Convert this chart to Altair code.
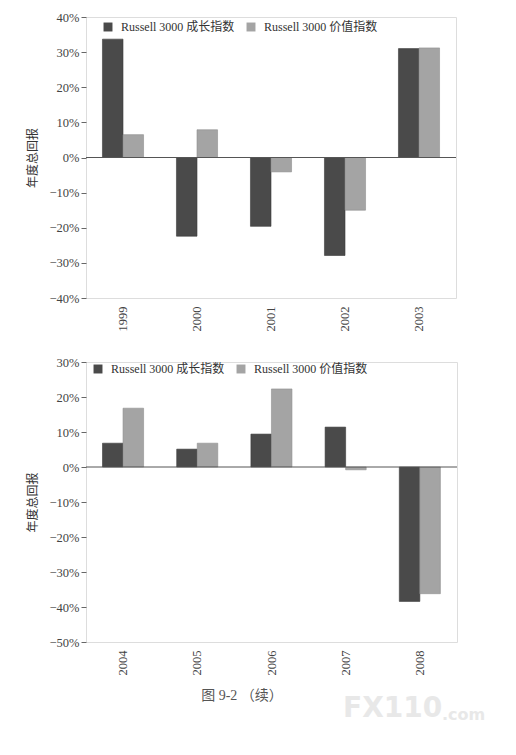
import altair as alt
import pandas as pd

series = ["Russell 3000 成长指数", "Russell 3000 价值指数"]

years_top = ["1999", "2000", "2001", "2002", "2003"]
growth_top = [33.7, -22.4, -19.6, -27.9, 31.0]
value_top = [6.5, 7.9, -4.1, -15.0, 31.2]

years_bot = ["2004", "2005", "2006", "2007", "2008"]
growth_bot = [6.8, 5.1, 9.4, 11.4, -38.4]
value_bot = [16.8, 6.8, 22.3, -0.8, -36.2]

ticks_top = [-40, -30, -20, -10, 0, 10, 20, 30, 40]
ticks_bot = [-50, -40, -30, -20, -10, 0, 10, 20, 30]

y_title = "年度总回报"
caption = "图 9-2 （续）"
watermark = "FX110"
watermark2 = ".com"

SERIF = "Liberation Serif, Noto Sans CJK SC"
DARK = "#4a4a4a"
LIGHT = "#a4a4a4"


def table(years, g, v):
    rows = []
    for y, a, b in zip(years, g, v):
        rows.append({"year": y, "series": series[0], "value": a})
        rows.append({"year": y, "series": series[1], "value": b})
    return pd.DataFrame(rows)


def y_axis(ticks):
    return alt.Axis(
        values=ticks,
        labelExpr="format(datum.value, 'd') + '%'",
        labelOverlap=False,
        grid=False,
        domain=False,
        tickSize=5,
        tickColor="#666",
        labelPadding=2,
        labelFont=SERIF,
        labelFontSize=12.5,
        labelColor="#444",
        titleFont="Noto Sans CJK SC",
        titleFontSize=12,
        titleFontWeight="normal",
        titleColor="#333",
        titlePadding=10,
    )


def panel(years, g, v, ticks, lx, ly, w, h, extra=None):
    df = table(years, g, v)
    yscale = alt.Scale(domain=[ticks[0], ticks[-1]], nice=False)
    bars = alt.Chart(df).mark_bar(strokeWidth=0.6).encode(
        x=alt.X(
            "year:N",
            sort=years,
            title=None,
            scale=alt.Scale(paddingInner=0.445, paddingOuter=0.2225),
            axis=alt.Axis(
                labelAngle=-90,
                labelPadding=8,
                ticks=False,
                domain=False,
                labelFont=SERIF,
                labelFontSize=12.5,
                labelColor="#444",
            ),
        ),
        xOffset=alt.XOffset("series:N", sort=series, scale=alt.Scale(paddingInner=0.0)),
        y=alt.Y("value:Q", title=y_title, scale=yscale, axis=y_axis(ticks)),
        color=alt.Color(
            "series:N",
            sort=series,
            scale=alt.Scale(domain=series, range=[DARK, LIGHT]),
            legend=alt.Legend(
                title=None,
                orient="none",
                legendX=lx,
                legendY=ly,
                direction="horizontal",
                columns=2,
                columnPadding=10,
                symbolType="square",
                symbolSize=80,
                symbolStrokeWidth=0,
                labelOffset=7,
                labelFont=SERIF,
                labelFontSize=12,
                labelColor="#333",
            ),
        ),
        stroke=alt.Stroke(
            "series:N",
            sort=series,
            scale=alt.Scale(domain=series, range=["#3a3a3a", "#8e8e8e"]),
            legend=None,
        ),
    )
    zero = alt.Chart(pd.DataFrame({"value": [0]})).mark_rule(color="#555", strokeWidth=1).encode(
        y=alt.Y("value:Q", title=y_title, scale=yscale, axis=y_axis(ticks))
    )
    layers = [bars, zero]
    if extra:
        layers += extra
    return alt.layer(*layers).properties(width=w, height=h)


cap = alt.Chart(pd.DataFrame({"t": [caption]})).mark_text(
    font="Liberation Serif, Noto Sans CJK SC", fontSize=14, color="#555", baseline="middle"
).encode(x=alt.value(156), y=alt.value(334), text="t:N")

wm = alt.Chart(pd.DataFrame({"t": [watermark]})).mark_text(
    font="DejaVu Sans", fontSize=28, fontWeight="bold", color="#e8e8e8", align="left", baseline="middle"
).encode(x=alt.value(257), y=alt.value(347), text="t:N")

wm2 = alt.Chart(pd.DataFrame({"t": [watermark2]})).mark_text(
    font="DejaVu Sans", fontSize=16, fontWeight="bold", color="#e8e8e8", align="left", baseline="middle"
).encode(x=alt.value(356), y=alt.value(353), text="t:N")

top = panel(years_top, growth_top, value_top, ticks_top, 16, 4, 370, 281)
bot = panel(years_bot, growth_bot, value_bot, ticks_bot, 6, 1, 371, 280, extra=[cap, wm, wm2])

chart = alt.vconcat(top, bot, spacing=23).resolve_scale(
    color="independent", y="independent", x="independent", stroke="independent"
).resolve_legend(color="independent").properties(
    padding={"left": 17, "top": 2, "right": 5, "bottom": 5}
).configure_view(stroke="#777", strokeWidth=1).configure(background="white")

chart.save("out.html", embed_options={"renderer": "svg", "actions": False})
